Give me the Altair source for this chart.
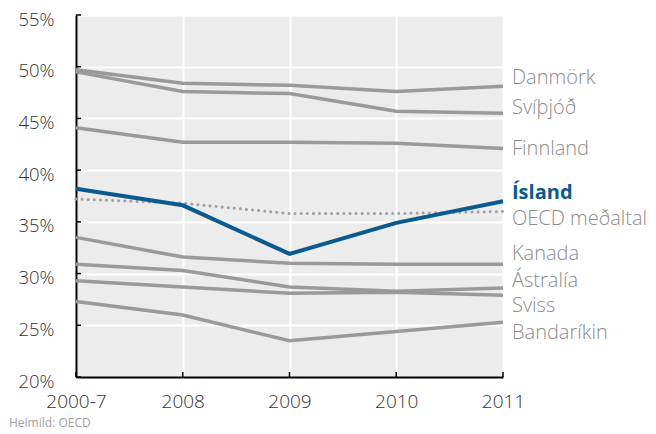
import altair as alt
import pandas as pd

years = ["2000-7", "2008", "2009", "2010", "2011"]
countries = ["Danmörk", "Svíþjóð", "Finnland", "Kanada", "Ástralía", "Sviss", "Bandaríkin"]
values = {
    "Danmörk":    [49.7, 48.4, 48.2, 47.6, 48.1],
    "Svíþjóð":    [49.5, 47.6, 47.4, 45.7, 45.5],
    "Finnland":   [44.1, 42.7, 42.7, 42.6, 42.1],
    "Kanada":     [33.5, 31.6, 31.0, 30.9, 30.9],
    "Ástralía":   [30.9, 30.3, 28.7, 28.3, 28.6],
    "Sviss":      [29.3, 28.7, 28.1, 28.2, 27.9],
    "Bandaríkin": [27.3, 26.0, 23.5, 24.4, 25.3],
}
iceland = [38.2, 36.6, 31.9, 34.9, 37.0]
oecd = [37.2, 36.8, 35.8, 35.8, 36.0]

label_names = ["Danmörk", "Svíþjóð", "Finnland", "Ísland", "OECD meðaltal",
               "Kanada", "Ástralía", "Sviss", "Bandaríkin"]
label_y = [48.9, 46.0, 42.0, 37.8, 35.3, 31.9, 29.3, 26.9, 24.3]
label_bold = [False, False, False, True, False, False, False, False, False]

y_ticks = [20, 25, 30, 35, 40, 45, 50, 55]

W, H = 427, 362
FONT = "Open Sans"

gray_rows = [{"year": y, "country": c, "v": v}
             for c in countries for y, v in zip(years, values[c])]
gray_df = pd.DataFrame(gray_rows)
ice_df = pd.DataFrame({"year": years, "v": iceland})
oecd_df = pd.DataFrame({"year": years, "v": oecd})
lab_df = pd.DataFrame({"name": label_names, "v": label_y, "bold": label_bold})

xs = alt.Scale(type="point", padding=0, domain=years)
ys = alt.Scale(domain=[20, 55], nice=False)

X = alt.X("year:O", scale=xs, sort=years,
          axis=alt.Axis(title=None, labelAngle=0, labelFont=FONT, labelFontSize=19,
                        labelFontWeight=300,
                        labelColor="#333333", labelPadding=15, ticks=False,
                        domainColor="#000000", domainWidth=2,
                        grid=True, gridColor="#ffffff", gridWidth=2))
Y = alt.Y("v:Q", scale=ys,
          axis=alt.Axis(title=None, values=y_ticks, format=".0f", labelExpr="datum.label + '%'",
                        labelFont=FONT, labelFontSize=18.5, labelFontWeight=300,
                        labelColor="#333333", labelOffset=4,
                        labelPadding=22, ticks=False, domainColor="#000000", domainWidth=2,
                        grid=True, gridColor="#ffffff", gridWidth=2))

gray = alt.Chart(gray_df).mark_line(color="#9a9a9a", strokeWidth=3.5).encode(
    x=X, y=Y, detail="country:N")
oecd_l = alt.Chart(oecd_df).mark_line(color="#a0a0a0", strokeWidth=3, strokeDash=[0.1, 6],
                                      strokeCap="round").encode(x=X, y=Y)
ice = alt.Chart(ice_df).mark_line(color="#0a5a92", strokeWidth=4).encode(x=X, y=Y)

xt = alt.Chart(pd.DataFrame({"year": years})).mark_rule(color="#000000", strokeWidth=1.5).encode(
    x=alt.X("year:O", scale=xs, sort=years), y=alt.value(H), y2=alt.value(H - 5))
yt = alt.Chart(pd.DataFrame({"v": y_ticks})).mark_rule(color="#000000", strokeWidth=1.5).encode(
    y=alt.Y("v:Q", scale=ys), x=alt.value(0), x2=alt.value(5))

labels = alt.Chart(lab_df[~lab_df.bold]).mark_text(
    align="left", baseline="middle", font=FONT, fontSize=20, fontWeight=300,
    color="#8c8c8c").encode(
    y=alt.Y("v:Q", scale=ys), x=alt.value(W + 9), text="name:N")
labels_b = alt.Chart(lab_df[lab_df.bold]).mark_text(
    align="left", baseline="middle", font=FONT, fontSize=20, fontWeight="bold",
    color="#0a5a92").encode(
    y=alt.Y("v:Q", scale=ys), x=alt.value(W + 9), text="name:N")

src = alt.Chart(pd.DataFrame({"t": ["Heimild: OECD"]})).mark_text(
    align="left", baseline="middle", font=FONT, fontSize=12, color="#a0a0a0").encode(
    x=alt.value(-67), y=alt.value(H + 46), text="t:N")

chart = alt.layer(gray, oecd_l, ice, xt, yt, labels, labels_b, src).properties(
    width=W, height=H,
    background="#ffffff",
    autosize=alt.AutoSizeParams(type="none"),
    padding={"left": 68, "top": 7, "right": 145, "bottom": 55},
).configure_view(fill="#ececec", stroke=None)

chart.save("out.html", embed_options={"renderer": "svg", "actions": False})
